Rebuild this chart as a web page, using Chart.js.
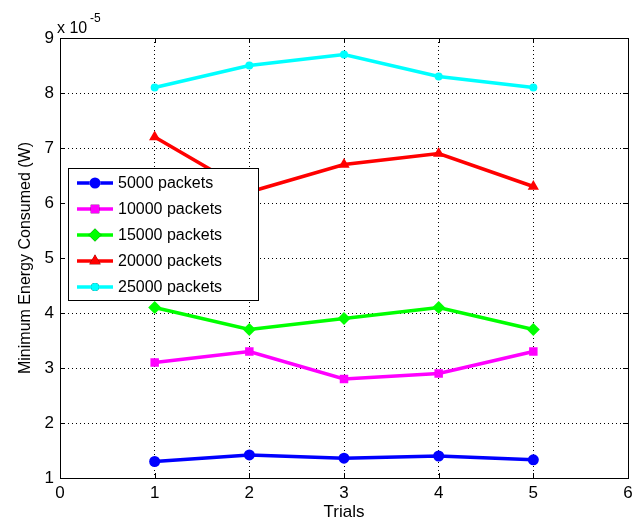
<!DOCTYPE html>
<html>
<head>
<meta charset="utf-8">
<script src="https://cdn.jsdelivr.net/npm/chart.js@4"></script>
<style>
  html,body{margin:0;padding:0;background:#fff;}
  #wrap{width:644px;height:521px;}
</style>
</head>
<body>
<div id="wrap"><canvas id="chart" width="644" height="521"></canvas></div>
<script>
// values in units of 10^-5 W
const trials = [1, 2, 3, 4, 5];
const labels = ["5000 packets", "10000 packets", "15000 packets", "20000 packets", "25000 packets"];
const p5000  = [1.30, 1.42, 1.36, 1.40, 1.33];
const p10000 = [3.1, 3.3, 2.8, 2.9, 3.3];
const p15000 = [4.1, 3.7, 3.9, 4.1, 3.7];
const p20000 = [7.2, 6.2, 6.7, 6.9, 6.3];
const p25000 = [8.1, 8.5, 8.7, 8.3, 8.1];
const xTicks = [0, 1, 2, 3, 4, 5, 6];
const yTicks = [1, 2, 3, 4, 5, 6, 7, 8, 9];

const colors = ["#0000ff", "#ff00ff", "#00ff00", "#ff0000", "#00ffff"];
const shapes = ["circle", "rect", "rectRot", "triangle", "circle"];
const radii = [5.5, 6, 6.5, 6.5, 4];
const series = [p5000, p10000, p15000, p20000, p25000];

const FONT = "'Liberation Sans', Arial, sans-serif";

const datasets = series.map((s, i) => ({
  label: labels[i],
  data: trials.map((t, j) => ({x: t, y: s[j]})),
  borderColor: colors[i],
  backgroundColor: colors[i],
  borderWidth: 3.5,
  pointStyle: shapes[i],
  pointRadius: radii[i],
  pointBorderWidth: 0,
  tension: 0
}));

// box, exponent label and legend inside the plot
const extras = {
  id: "extras",
  afterDraw(c) {
    const ctx = c.ctx, a = c.chartArea;
    ctx.save();
    ctx.strokeStyle = "#000";
    ctx.lineWidth = 1;
    ctx.setLineDash([]);
    ctx.strokeRect(a.left + 0.5, a.top + 0.5, a.right - a.left, a.bottom - a.top);

    // small inner ticks
    const xs = c.scales.x, ys = c.scales.y;
    ctx.beginPath();
    xTicks.forEach(v => {
      const px = Math.round(xs.getPixelForValue(v)) + 0.5;
      ctx.moveTo(px, a.bottom); ctx.lineTo(px, a.bottom - 5);
      ctx.moveTo(px, a.top); ctx.lineTo(px, a.top + 5);
    });
    yTicks.forEach(v => {
      const py = Math.round(ys.getPixelForValue(v)) + 0.5;
      ctx.moveTo(a.left, py); ctx.lineTo(a.left + 5, py);
      ctx.moveTo(a.right, py); ctx.lineTo(a.right - 5, py);
    });
    ctx.stroke();

    // exponent
    ctx.fillStyle = "#000";
    ctx.textBaseline = "alphabetic";
    ctx.font = "16px " + FONT;
    ctx.fillText("x 10", 57, 33);
    ctx.font = "12px " + FONT;
    ctx.fillText("-5", 90, 22);

    // legend
    const lx = 68, ly = 168, lw = 190, lh = 132;
    ctx.fillStyle = "#fff";
    ctx.fillRect(lx, ly, lw, lh);
    ctx.strokeRect(lx + 0.5, ly + 0.5, lw, lh);
    c.data.datasets.forEach((d, i) => {
      const y = ly + 15 + i * 26;
      ctx.strokeStyle = d.borderColor;
      ctx.lineWidth = 3.5;
      ctx.beginPath();
      ctx.moveTo(77, y); ctx.lineTo(113, y);
      ctx.stroke();
      Chart.helpers.drawPoint(ctx, {pointStyle: d.pointStyle, radius: d.pointRadius, borderWidth: 0}, 95, y);
      ctx.fillStyle = d.borderColor;
      ctx.fill();
      ctx.fillStyle = "#000";
      ctx.font = "16px " + FONT;
      ctx.textBaseline = "middle";
      ctx.fillText(d.label, 118, y + 1);
    });
    ctx.restore();
  }
};

new Chart(document.getElementById("chart"), {
  type: "line",
  data: {datasets},
  options: {
    responsive: false,
    animation: false,
    layout: {padding: {top: 38, right: 16, left: 12, bottom: 0}},
    plugins: {legend: {display: false}, tooltip: {enabled: false}},
    scales: {
      x: {
        type: "linear", min: 0, max: 6,
        afterBuildTicks: s => { s.ticks = xTicks.map(v => ({value: v})); },
        afterFit: s => { s.height = 43; },
        grid: {color: "#000", lineWidth: 1, drawTicks: false},
        border: {display: false, dash: [1, 3]},
        ticks: {color: "#000", font: {family: FONT, size: 17}, padding: 5},
        title: {display: true, text: "Trials", color: "#000", font: {family: FONT, size: 17}, padding: {top: 0, bottom: -2}}
      },
      y: {
        min: 1, max: 9,
        afterBuildTicks: s => { s.ticks = yTicks.map(v => ({value: v})); },
        afterFit: s => { s.width = 48; },
        grid: {color: "#000", lineWidth: 1, drawTicks: false},
        border: {display: false, dash: [1, 3]},
        ticks: {color: "#000", font: {family: FONT, size: 17}, padding: 6},
        title: {display: true, text: "Minimum Energy Consumed (W)", color: "#000", font: {family: FONT, size: 16}, padding: {bottom: 2}}
      }
    }
  },
  plugins: [extras]
});
</script>
</body>
</html>
